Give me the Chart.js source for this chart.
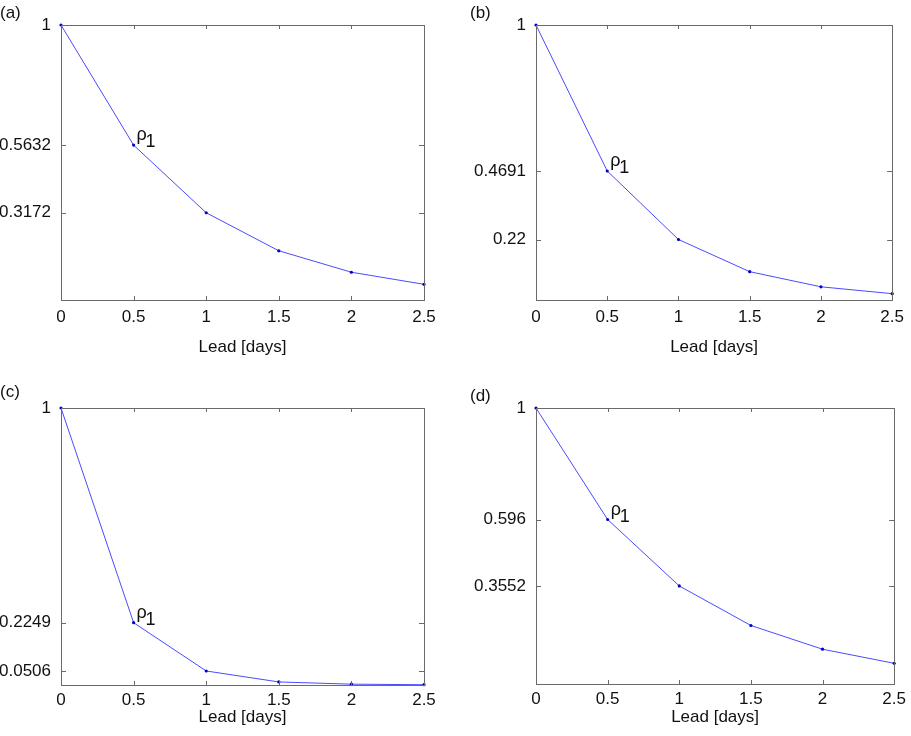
<!DOCTYPE html>
<html>
<head>
<meta charset="utf-8">
<script src="https://cdn.jsdelivr.net/npm/chart.js@4"></script>
<style>
  body { margin: 0; background: #fff; }
  #wrap { position: relative; width: 911px; height: 736px; }
  canvas { position: absolute; }
</style>
</head>
<body>
<div id="wrap">
  <canvas id="pa" width="455" height="368" style="left:0;top:0"></canvas>
  <canvas id="pb" width="456" height="368" style="left:455px;top:0"></canvas>
  <canvas id="pc" width="455" height="368" style="left:0;top:368px"></canvas>
  <canvas id="pd" width="456" height="368" style="left:455px;top:368px"></canvas>
</div>
<script>
// lead times on the x axis
const leads = [0, 0.5, 1, 1.5, 2, 2.5];
const xTicks = [0, 0.5, 1, 1.5, 2, 2.5];

// correlation vs lead
const seriesA = [1, 0.5632, 0.3172, 0.179, 0.101, 0.057];
const seriesB = [1, 0.4691, 0.22, 0.103, 0.048, 0.023];
const seriesC = [1, 0.2249, 0.0506, 0.011, 0.003, 0.001];
const seriesD = [1, 0.596, 0.3552, 0.212, 0.126, 0.075];

// y tick values shown on each panel
const yTicksA = [0.3172, 0.5632, 1];
const yTicksB = [0.22, 0.4691, 1];
const yTicksC = [0.0506, 0.2249, 1];
const yTicksD = [0.3552, 0.596, 1];

const panelLabels = ["(a)", "(b)", "(c)", "(d)"];

const FONT = "'Liberation Sans', Arial, Helvetica, sans-serif";
const AXIS_COLOR = "#6a6a6a";

// -------- box, inward ticks, rho label, panel tag --------
const decorPlugin = {
  id: "decor",
  afterDraw(chart, args, opts) {
    const ctx = chart.ctx;
    const a = chart.chartArea;
    const xs = chart.scales.x, ys = chart.scales.y;
    ctx.save();
    ctx.strokeStyle = AXIS_COLOR;
    ctx.lineWidth = 1;
    ctx.strokeRect(Math.round(a.left) + 0.5, Math.round(a.top) + 0.5,
      Math.round(a.right - a.left), Math.round(a.bottom - a.top));
    ctx.beginPath();
    xTicks.forEach((v) => {
      const px = Math.round(xs.getPixelForValue(v)) + 0.5;
      ctx.moveTo(px, a.bottom); ctx.lineTo(px, a.bottom - 4);
      ctx.moveTo(px, a.top); ctx.lineTo(px, a.top + 4);
    });
    opts.yTicks.forEach((v) => {
      const py = Math.round(ys.getPixelForValue(v)) + 0.5;
      ctx.moveTo(a.left, py); ctx.lineTo(a.left + 5, py);
      ctx.moveTo(a.right, py); ctx.lineTo(a.right - 5, py);
    });
    ctx.stroke();

    // rho_1 next to the second point
    const px = xs.getPixelForValue(leads[1]);
    const py = ys.getPixelForValue(opts.series[1]);
    ctx.fillStyle = "#111";
    ctx.textBaseline = "alphabetic";
    ctx.font = "18px " + FONT;
    ctx.fillText("ρ", px + 3, py - 5);
    ctx.font = "18px " + FONT;
    ctx.fillText("1", px + 12, py + 2);

    // panel tag
    ctx.font = "17px " + FONT;
    ctx.textBaseline = "middle";
    ctx.fillText(opts.tag, opts.tagX, opts.tagY);
    ctx.restore();
  }
};

function makePanel(id, series, yTicks, tag, box) {
  const ctx = document.getElementById(id).getContext("2d");
  const W = ctx.canvas.width, H = ctx.canvas.height;
  return new Chart(ctx, {
    type: "line",
    data: {
      datasets: [{
        data: leads.map((x, i) => ({ x: x, y: series[i] })),
        borderColor: "#4a4aff",
        borderWidth: 1,
        pointRadius: 1.6,
        pointBackgroundColor: "#0000c8",
        pointBorderColor: "#0000c8",
        pointBorderWidth: 0,
        tension: 0,
        clip: false
      }]
    },
    options: {
      responsive: false,
      animation: false,
      events: [],
      layout: { padding: { left: 0, top: box.top, right: W - box.right, bottom: 0 } },
      plugins: {
        legend: { display: false },
        tooltip: { enabled: false },
        decor: { series: series, yTicks: yTicks, tag: tag, tagX: box.tagX, tagY: box.tagY }
      },
      scales: {
        x: {
          type: "linear",
          min: 0,
          max: 2.5,
          grid: { display: false, drawTicks: false },
          border: { display: false },
          afterBuildTicks: (s) => { s.ticks = xTicks.map((v) => ({ value: v })); },
          afterFit: (s) => { s.height = H - box.bottom; },
          ticks: {
            padding: box.xPad,
            maxRotation: 0,
            autoSkip: false,
            color: "#111",
            font: { family: FONT, size: 17 },
            callback: (v) => String(v)
          },
          title: {
            display: true,
            text: "Lead [days]",
            color: "#111",
            font: { family: FONT, size: 17 },
            padding: { top: 0, bottom: box.titlePad }
          }
        },
        y: {
          type: "linear",
          min: 0,
          max: 1,
          grid: { display: false, drawTicks: false },
          border: { display: false },
          afterBuildTicks: (s) => { s.ticks = yTicks.map((v) => ({ value: v })); },
          afterFit: (s) => { s.width = box.left; },
          ticks: {
            padding: 10,
            autoSkip: false,
            color: "#111",
            font: { family: FONT, size: 17 },
            callback: (v) => String(v)
          }
        }
      }
    },
    plugins: [decorPlugin]
  });
}

makePanel("pa", seriesA, yTicksA, panelLabels[0],
  { left: 61, right: 424, top: 25, bottom: 300, xPad: 7, titlePad: 10, tagX: 0, tagY: 13 });
makePanel("pb", seriesB, yTicksB, panelLabels[1],
  { left: 81, right: 443, top: 25, bottom: 300, xPad: 7, titlePad: 10, tagX: 15, tagY: 13 });
makePanel("pc", seriesC, yTicksC, panelLabels[2],
  { left: 61, right: 424, top: 40, bottom: 317, xPad: 5, titlePad: 8, tagX: 0, tagY: 24 });
makePanel("pd", seriesD, yTicksD, panelLabels[3],
  { left: 81, right: 442, top: 40, bottom: 316, xPad: 5, titlePad: 8, tagX: 15, tagY: 28 });
</script>
</body>
</html>
